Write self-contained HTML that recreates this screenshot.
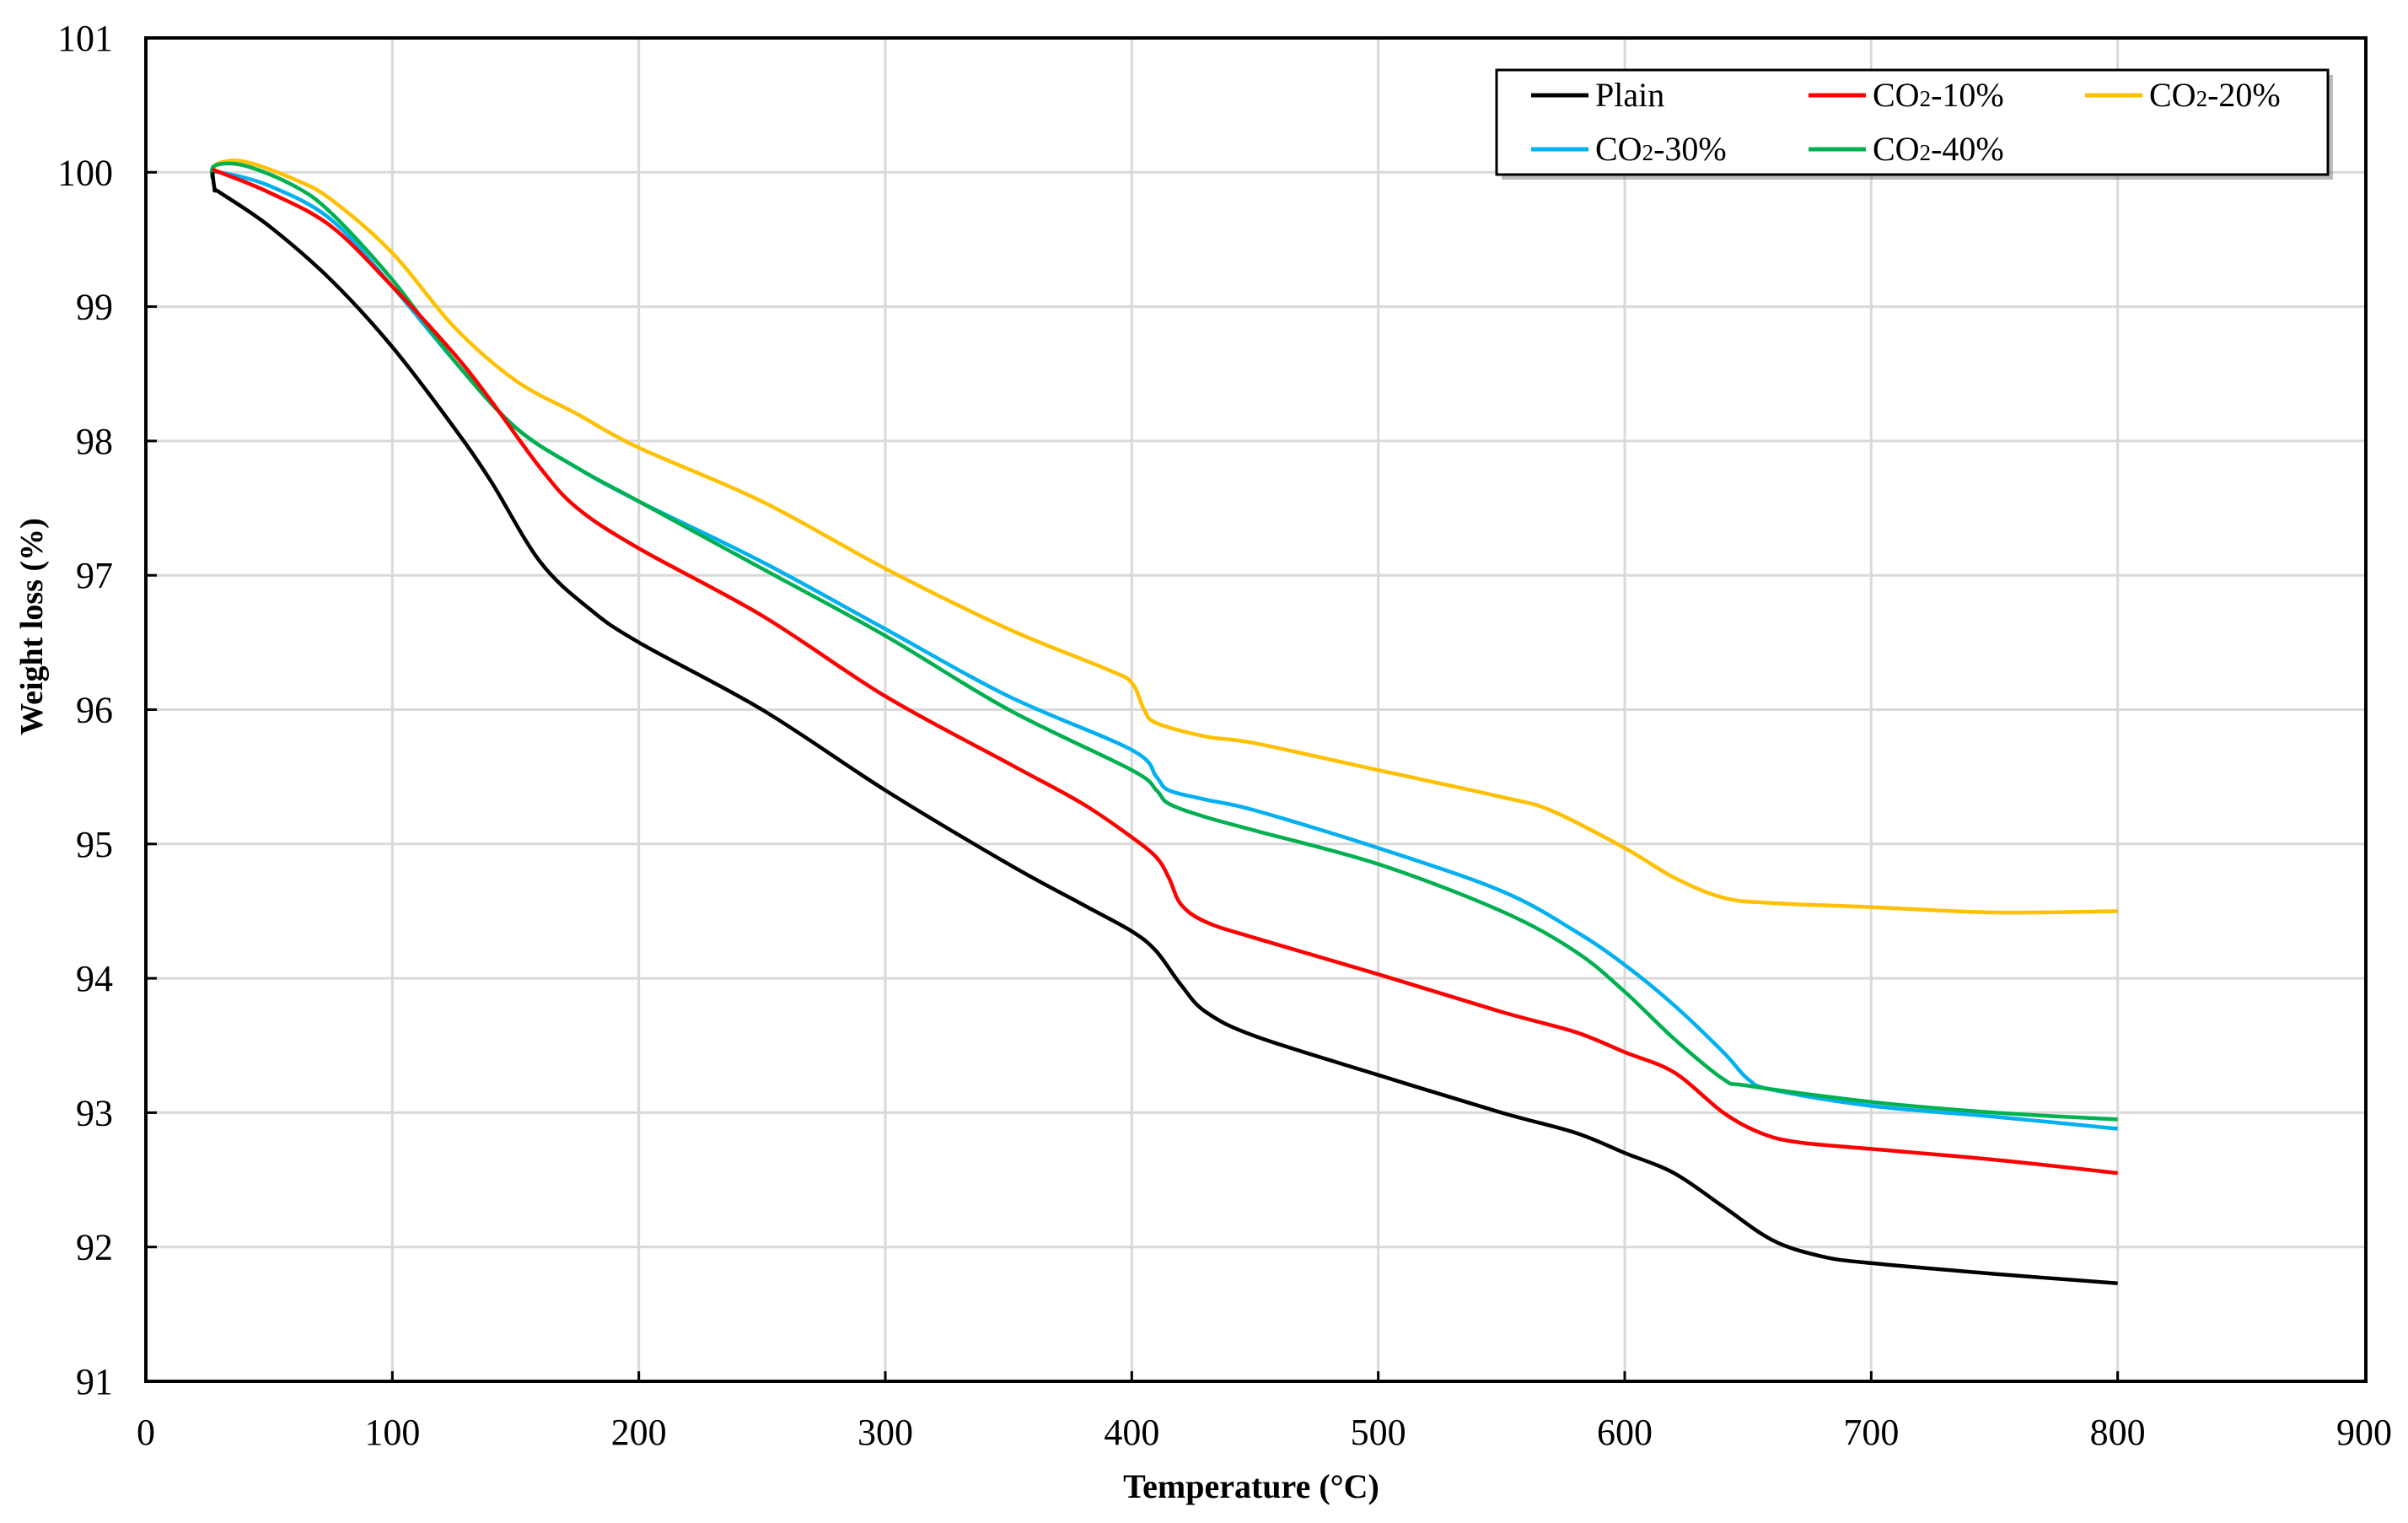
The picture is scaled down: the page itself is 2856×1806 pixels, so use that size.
<!DOCTYPE html>
<html><head><meta charset="utf-8"><style>
html,body{margin:0;padding:0;background:#fff;}
svg, svg text{font-family:"Liberation Serif","Times New Roman",serif;}
svg{display:block;}
</style></head><body>
<svg id="chart" width="2856" height="1806" viewBox="0 0 2856 1806" xmlns="http://www.w3.org/2000/svg" font-family="Liberation Serif, serif">
<g id="grid"></g>
<g id="series"></g>
<rect x="173" y="45" width="2633" height="1593" fill="none" stroke="#000" stroke-width="4"/>
<g id="ticks"></g>
<text x="0" y="0" transform="translate(50,743) rotate(-90)" text-anchor="middle" font-size="38" font-weight="bold" font-family="Liberation Serif, serif">Weight loss (%)</text>
<text x="1484" y="1776" text-anchor="middle" font-size="40" font-weight="bold" font-family="Liberation Serif, serif">Temperature (°C)</text>
<g>
<rect x="1781" y="89" width="986" height="124" fill="#777" opacity="0.5"/>
<rect x="1775" y="83" width="986" height="124" fill="#fff" stroke="#000" stroke-width="3"/>
<g id="legend-items"></g>
</g>
</svg>
<script>
const xTicks=[0,100,200,300,400,500,600,700,800,900];
const yTicks=[91,92,93,94,95,96,97,98,99,100,101];
const seriesNames=["Plain","CO2-10%","CO2-20%","CO2-30%","CO2-40%"];
const seriesColors=["#000000","#ff0000","#ffc000","#00b0f0","#00b050"];
const tPlain=[27,28,30,50,75,100,125,140,160,180,200,250,300,350,380,400,410,420,430,450,500,550,580,600,620,640,660,680,700,750,800];
const vPlain=[100,99.87,99.85,99.6,99.2,98.7,98.1,97.7,97.1,96.75,96.5,96.0,95.4,94.85,94.55,94.35,94.2,93.95,93.75,93.57,93.28,93.0,92.85,92.7,92.55,92.3,92.05,91.93,91.88,91.8,91.73];
const t10=[27,30,50,75,100,125,140,160,175,200,250,300,350,380,400,410,415,420,430,450,500,550,580,600,620,640,655,670,700,750,800];
const v10=[100.02,100.0,99.85,99.6,99.15,98.65,98.3,97.8,97.5,97.2,96.7,96.1,95.6,95.3,95.05,94.9,94.75,94.55,94.42,94.3,94.03,93.75,93.6,93.45,93.3,93.0,92.85,92.78,92.73,92.65,92.55];
const t20=[27,30,40,60,75,100,125,150,175,200,250,300,350,390,400,405,410,430,450,500,550,570,600,620,640,660,700,750,800];
const v20=[100.02,100.07,100.08,99.95,99.8,99.4,98.85,98.45,98.2,97.95,97.55,97.05,96.6,96.3,96.2,96.0,95.9,95.8,95.75,95.55,95.35,95.25,94.97,94.75,94.6,94.56,94.53,94.49,94.5];
const t30=[27,30,50,75,100,125,150,175,200,250,300,350,400,410,415,430,450,500,550,580,600,620,640,650,660,700,750,800];
const v30=[99.98,100.0,99.9,99.65,99.15,98.6,98.1,97.8,97.55,97.1,96.6,96.1,95.7,95.5,95.4,95.33,95.25,94.97,94.65,94.35,94.1,93.8,93.45,93.25,93.17,93.05,92.97,92.88];
const t40=[27,28,40,60,75,100,125,150,175,200,250,300,350,400,410,415,430,450,500,550,580,600,620,640,650,700,750,800];
const v40=[99.95,100.05,100.05,99.9,99.7,99.2,98.6,98.1,97.8,97.55,97.05,96.55,96.0,95.55,95.4,95.3,95.2,95.1,94.85,94.5,94.2,93.9,93.55,93.25,93.2,93.08,93.0,92.95];

const NS="http://www.w3.org/2000/svg";
const X0=173,X1=2804,Y0=1638,Y1=45;
function sx(t){return X0+(t-0)/(900-0)*(X1-X0);}
function sy(v){return Y0-(v-91)/(101-91)*(Y0-Y1);}
function mk(tag,attrs,parent){const e=document.createElementNS(NS,tag);for(const k in attrs)e.setAttribute(k,attrs[k]);parent.appendChild(e);return e;}
const grid=document.getElementById('grid'),ticks=document.getElementById('ticks');
xTicks.forEach(t=>{
  if(t>0&&t<900){const g=mk('line',{x1:sx(t),x2:sx(t),y1:Y1,y2:Y0,stroke:'#d9d9d9','stroke-width':3},grid);
  
  
  const tk=mk('line',{x1:sx(t),x2:sx(t),y1:Y0-12,y2:Y0,stroke:'#000','stroke-width':3},ticks);
  
  }
  const l=mk('text',{x:sx(t),y:1713,'text-anchor':'middle','font-size':44,'font-family':'Liberation Serif, serif'},ticks);l.textContent=t;
  
  
});
yTicks.forEach(v=>{
  if(v>91&&v<101){const g=mk('line',{x1:X0,x2:X1,y1:sy(v),y2:sy(v),stroke:'#d9d9d9','stroke-width':3},grid);
  
  
  const tk=mk('line',{x1:X0,x2:X0+13,y1:sy(v),y2:sy(v),stroke:'#000','stroke-width':3},ticks);
  
  }
  const l=mk('text',{x:134,y:sy(v)+15,'text-anchor':'end','font-size':44,'font-family':'Liberation Serif, serif'},ticks);l.textContent=v;
  
  
});
function smoothPath(P){
  let d='M'+P[0][0].toFixed(1)+','+P[0][1].toFixed(1);
  for(let i=0;i<P.length-1;i++){
    const p0=P[Math.max(0,i-1)],p1=P[i],p2=P[i+1],p3=P[Math.min(P.length-1,i+2)];
    const c1x=p1[0]+(p2[0]-p0[0])/6,c1y=p1[1]+(p2[1]-p0[1])/6;
    const c2x=p2[0]-(p3[0]-p1[0])/6,c2y=p2[1]-(p3[1]-p1[1])/6;
    d+=' C'+c1x.toFixed(1)+','+c1y.toFixed(1)+' '+c2x.toFixed(1)+','+c2y.toFixed(1)+' '+p2[0].toFixed(1)+','+p2[1].toFixed(1);
  }
  return d;
}
const allT=[tPlain,t10,t20,t30,t40],allV=[vPlain,v10,v20,v30,v40];
const sg=document.getElementById('series');
const order=[2,3,4,1,0];
order.forEach(i=>{
  const P=allT[i].map((t,j)=>[sx(t),sy(allV[i][j])]);
  const p=mk('path',{d:smoothPath(P),fill:'none',stroke:seriesColors[i],'stroke-width':4.5,'stroke-linejoin':'round'},sg);
  
  
});
const li=document.getElementById('legend-items');
const lx=[1816,2145,2473,1816,2145],ly=[113,113,113,177,177];
seriesNames.forEach((n,i)=>{
  const g=mk('g',{},li);
  
  
  mk('line',{x1:lx[i],x2:lx[i]+68,y1:ly[i],y2:ly[i],stroke:seriesColors[i],'stroke-width':5},g);
  const t=mk('text',{x:lx[i]+76,y:ly[i]+13,'font-size':40,'font-family':'Liberation Serif, serif'},g);
  if(i===0){t.textContent='Plain';}
  else{t.textContent='CO';const s=mk('tspan',{'font-size':27},t);s.textContent='2';t.appendChild(document.createTextNode(n.slice(3)));}
});
</script>
</body></html>
